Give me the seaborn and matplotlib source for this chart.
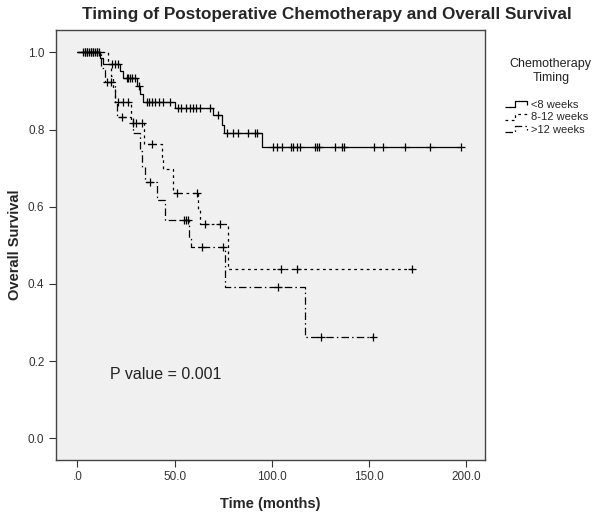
import numpy as np
import pandas as pd
import matplotlib
matplotlib.use("Agg")
import matplotlib.pyplot as plt
import seaborn as sns
from matplotlib.lines import Line2D
from matplotlib.legend_handler import HandlerLine2D

# ---------------- data ----------------
group_names = ["<8 weeks", "8-12 weeks", ">12 weeks"]

# <8 weeks : step times and survival after each step
lt8_time = [0, 11.6, 13.0, 21.9, 23.4, 30.4, 32.0, 33.8, 50.2, 69.9, 74.2, 75.4, 95.0, 197.0]
lt8_surv = [1.0, 0.985, 0.971, 0.952, 0.933, 0.913, 0.893, 0.872, 0.857, 0.837, 0.811, 0.790, 0.755, 0.755]
lt8_cens = [3, 4, 5, 6, 7, 8, 9, 10, 11, 17.6, 19.3, 21, 25.3, 26.2, 27, 27.9, 29.6, 31.5,
            35.6, 37, 38.5, 40, 42, 44, 47.6, 51.7, 53.4, 56, 57.7, 59.4, 61, 62.8, 68, 72,
            76.7, 80.1, 82.7, 87.8, 91.3, 92.5, 100.7, 102.8, 105, 109.7, 111, 112.8, 114.5,
            122.2, 123, 124.2, 132.5, 135.9, 137.1, 152.5, 157.3, 168.5, 181, 197]

# 8-12 weeks
mid_time = [0, 15.5, 17.0, 18.5, 19.3, 27.5, 34.0, 43.3, 44.0, 49.3, 62.1, 63.0, 77.3, 172.0]
mid_surv = [1.0, 0.970, 0.940, 0.905, 0.872, 0.818, 0.762, 0.730, 0.698, 0.635, 0.595, 0.555, 0.440, 0.440]
mid_cens = [4, 7, 10, 21, 23.5, 26, 28.5, 30, 33, 38.2, 51, 61.5, 65.6, 73.3, 104.5, 113, 172]

# >12 weeks
gt12_time = [0, 12.0, 14.0, 19.3, 20.2, 28.4, 32.0, 33.0, 34.7, 40.7, 45.0, 57.5, 58.5, 75.9, 117.0, 152.0]
gt12_surv = [1.0, 0.960, 0.924, 0.872, 0.833, 0.790, 0.745, 0.704, 0.665, 0.617, 0.566, 0.520, 0.496, 0.392, 0.263, 0.263]
gt12_cens = [5, 8, 15, 17, 22.7, 37.3, 55, 56, 57, 63.9, 74.7, 103.3, 125.3, 152]

x_ticks = [0, 50, 100, 150, 200]
x_tick_labels = [".0", "50.0", "100.0", "150.0", "200.0"]
y_ticks = [0.0, 0.2, 0.4, 0.6, 0.8, 1.0]
y_tick_labels = ["0.0", "0.2", "0.4", "0.6", "0.8", "1.0"]

# ---------------- styling ----------------
sns.set_theme(style="white")
plt.rcParams['font.family'] = ['Liberation Sans', 'DejaVu Sans']

styles = {
    "<8 weeks": (0, ()),
    "8-12 weeks": (0, (2.2, 2.8)),
    ">12 weeks": (0, (6, 2.5, 1.2, 2.5)),
}

fig = plt.figure(figsize=(6.04, 5.16), dpi=100)
ax = fig.add_axes([0.0919, 0.1085, 0.711, 0.8334])
ax.set_facecolor("#f0f0f0")

series = [
    ("<8 weeks", lt8_time, lt8_surv, lt8_cens),
    ("8-12 weeks", mid_time, mid_surv, mid_cens),
    (">12 weeks", gt12_time, gt12_surv, gt12_cens),
]

for name, tt, ss, cc in series:
    df = pd.DataFrame({"time": tt, "surv": ss})
    sns.lineplot(data=df, x="time", y="surv", drawstyle="steps-post", color="black",
                 linewidth=0.9, linestyle=styles[name], estimator=None, sort=False,
                 legend=False, ax=ax)
    tarr = np.asarray(tt, dtype=float)
    sarr = np.asarray(ss, dtype=float)
    idx = np.searchsorted(tarr, np.asarray(cc, dtype=float), side="right") - 1
    cdf = pd.DataFrame({"time": cc, "surv": sarr[idx]})
    sns.scatterplot(data=cdf, x="time", y="surv", marker="+", s=32, color="black",
                    linewidth=0.9, legend=False, ax=ax, zorder=3)

ax.set_xlim(-11.3, 209.5)
ax.set_ylim(-0.056, 1.058)
ax.set_xticks(x_ticks)
ax.set_xticklabels(x_tick_labels)
ax.set_yticks(y_ticks)
ax.set_yticklabels(y_tick_labels)
ax.tick_params(axis="both", direction="out", length=5, width=0.8, color="#333333",
               labelsize=8.5, labelcolor="#333333", bottom=True, left=True, pad=3)
for sp in ax.spines.values():
    sp.set_visible(True)
    sp.set_color("#444444")
    sp.set_linewidth(1.0)

ax.set_xlabel("Time (months)", fontsize=10.5, fontweight="bold", labelpad=10)
ax.set_ylabel("Overall Survival", fontsize=10.5, fontweight="bold", labelpad=4)

ax.text(0.128, 0.198, "P value = 0.001", transform=ax.transAxes, fontsize=11.5,
        color="#222222", ha="left", va="center")

fig.text(0.541, 0.972, "Timing of Postoperative Chemotherapy and Overall Survival",
         ha="center", va="center", fontsize=12.3, fontweight="bold")


class StepHandler(HandlerLine2D):
    def create_artists(self, legend, orig_handle, xdescent, ydescent, width, height,
                       fontsize, trans):
        x0, x1 = -xdescent, -xdescent + width
        ylo, yhi = -ydescent + 0.1 * height, -ydescent + 0.85 * height
        xm = x0 + 0.45 * width
        xs = [x0, xm, xm, x1, x1]
        ys = [ylo, ylo, yhi, yhi, ylo + 0.3 * height]
        ln = Line2D(xs, ys, color=orig_handle.get_color(), lw=orig_handle.get_linewidth())
        ln.set_linestyle(styles[orig_handle.get_label()])
        ln.set_transform(trans)
        return [ln]


handles = [Line2D([0], [0], color="black", lw=0.9, linestyle=styles[n], label=n)
           for n in group_names]
fig.text(0.912, 0.862, "Chemotherapy\nTiming", ha="center", va="center", fontsize=9,
         color="#222222", linespacing=1.25)
leg = fig.legend(handles, group_names, loc="upper left", bbox_to_anchor=(0.828, 0.815),
                 frameon=False, fontsize=8, handlelength=2.0, handletextpad=0.4,
                 labelspacing=0.22, borderaxespad=0,
                 handler_map={Line2D: StepHandler()})

fig.savefig("out.png", dpi=100, facecolor="white")
